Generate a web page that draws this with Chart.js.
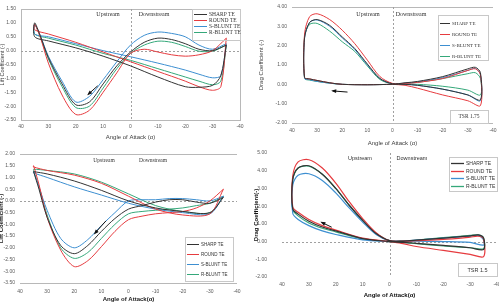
<!DOCTYPE html>
<html>
<head>
<meta charset="utf-8">
<script src="https://cdn.jsdelivr.net/npm/chart.js@4.4.1/dist/chart.umd.min.js"></script>
<style>
  html, body { margin: 0; padding: 0; background: #fff; width: 499px; height: 305px; overflow: hidden; }
  .panel { position: absolute; }
  canvas { display: block; }
</style>
</head>
<body>
<div class="panel" style="left:0;top:0"><canvas id="c1" width="250" height="150"></canvas></div>
<div class="panel" style="left:250px;top:0"><canvas id="c2" width="249" height="150"></canvas></div>
<div class="panel" style="left:0;top:150px"><canvas id="c3" width="250" height="155"></canvas></div>
<div class="panel" style="left:250px;top:150px"><canvas id="c4" width="249" height="155"></canvas></div>
<script>
// series
const seriesNames = ["SHARP TE", "ROUND TE", "S-BLUNT TE", "R-BLUNT TE"];
const seriesColors = ["#333333", "#e63b3f", "#3d8fd1", "#35a87a"];

// top-left: lift, loop goes along the S-curve then back along the straight branch
const lift1Angle = [-35, -30, -25, -20, -15, -10, -5, 0, 5, 10, 15, 20, 25, 30, 33, 35, 35, 30, 20, 10, 0, -10, -20, -25, -30, -33, -35];
const sharp1 = [0.2, 0.0, 0.05, 0.25, 0.4, 0.45, 0.3, -0.05, -0.55, -1.2, -1.85, -1.95, -1.2, -0.25, 0.55, 1.0, 0.5, 0.35, 0.1, -0.2, -0.55, -0.95, -1.3, -1.32, -1.25, -0.9, 0.2];
const round1 = [0.45, 0.0, -0.15, -0.2, -0.15, -0.05, 0.05, -0.1, -0.8, -1.5, -2.15, -2.3, -1.6, -0.45, 0.5, 0.95, 0.75, 0.6, 0.3, -0.05, -0.4, -0.75, -1.1, -1.3, -1.43, -1.3, 0.45];
const sblunt1 = [0.25, 0.05, 0.2, 0.5, 0.62, 0.67, 0.55, 0.2, -0.4, -1.05, -1.65, -1.85, -1.1, -0.2, 0.55, 0.95, 0.6, 0.5, 0.25, 0.0, -0.22, -0.45, -0.7, -0.85, -0.98, -0.9, 0.25];
const rblunt1 = [0.2, -0.02, -0.02, 0.15, 0.3, 0.34, 0.2, -0.1, -0.65, -1.35, -2.0, -2.05, -1.3, -0.3, 0.5, 0.95, 0.6, 0.45, 0.2, -0.1, -0.35, -0.65, -0.95, -1.1, -1.23, -1.1, 0.2];

// top-right: drag, TSR 1.75
const drag2Angle = [0, 10, 20, 25, 30, 33, 35, 35, 33, 30, 25, 20, 15, 10, 5, 0, -5, -10, -20, -30, -33, -35, -35, -30, -20, -10, -5, 0];
const sharp2 = [0, -0.02, 0.0, 0.08, 0.2, 0.28, 0.35, 2.4, 3.2, 3.35, 3.05, 2.45, 1.85, 1.05, 0.3, 0.03, 0.08, 0.15, 0.4, 0.8, 0.88, 0.6, -0.8, -0.55, -0.25, -0.05, 0.0, 0.0];
const round2 = [0, -0.02, 0.0, 0.08, 0.2, 0.28, 0.35, 2.6, 3.5, 3.65, 3.35, 2.8, 2.1, 1.25, 0.4, 0.05, 0.05, 0.1, 0.3, 0.72, 0.8, 0.5, -1.1, -0.85, -0.55, -0.2, -0.05, 0.0];
const sblunt2 = [0, -0.02, 0.0, 0.06, 0.15, 0.24, 0.3, 2.4, 3.2, 3.33, 3.0, 2.4, 1.8, 1.0, 0.3, 0.03, 0.06, 0.12, 0.35, 0.72, 0.82, 0.5, -0.85, -0.55, -0.25, -0.05, 0.0, 0.0];
const rblunt2 = [0, -0.02, 0.0, 0.06, 0.15, 0.22, 0.3, 2.5, 3.1, 3.15, 2.75, 2.2, 1.7, 0.95, 0.25, 0.03, 0.05, 0.1, 0.3, 0.55, 0.6, 0.3, -0.55, -0.3, -0.1, 0.0, 0.0, 0.0];

// bottom-left: lift
const lift3Angle = [-35, -30, -25, -20, -15, -10, -5, 0, 5, 10, 15, 20, 25, 30, 33, 35, 35, 30, 20, 10, 0, -10, -20, -30, -35];
const sharp3 = [0.15, -0.1, -0.05, 0.05, 0.05, -0.05, -0.2, -0.35, -0.75, -1.3, -1.9, -2.25, -1.9, -0.7, 0.5, 1.25, 1.25, 1.15, 0.85, 0.45, 0.0, -0.3, -0.45, -0.5, 0.15];
const round3 = [0.5, 0.0, -0.3, -0.45, -0.5, -0.55, -0.65, -0.8, -1.3, -1.95, -2.55, -2.8, -2.1, -0.7, 0.7, 1.5, 1.45, 1.3, 1.1, 0.75, 0.2, -0.35, -0.6, -0.55, 0.5];
const sblunt3 = [0.2, 0.0, 0.05, 0.1, 0.1, 0.05, 0.05, 0.0, -0.5, -1.05, -1.65, -2.0, -1.6, -0.4, 0.6, 1.25, 1.2, 1.0, 0.6, 0.25, -0.1, -0.35, -0.5, -0.55, 0.2];
const rblunt3 = [0.2, -0.1, -0.2, -0.3, -0.35, -0.4, -0.45, -0.55, -1.0, -1.6, -2.2, -2.45, -2.0, -0.6, 0.6, 1.3, 1.35, 1.3, 1.15, 0.8, 0.3, -0.2, -0.45, -0.5, 0.2];

// bottom-right: drag, TSR 1.5
const drag4Angle = [0, 10, 20, 25, 30, 34, 36, 36, 34, 30, 25, 20, 15, 10, 5, 0, -5, -10, -20, -30, -33, -35, -35, -30, -20, -10, -5, 0];
const sharp4 = [0, 0.17, 0.6, 0.82, 1.15, 1.55, 1.85, 3.5, 4.15, 4.28, 3.8, 3.0, 2.05, 1.2, 0.45, 0.05, 0.03, 0.08, 0.2, 0.32, 0.38, 0.2, -0.45, -0.35, -0.22, -0.1, -0.04, 0];
const round4 = [0, 0.2, 0.65, 0.9, 1.25, 1.65, 1.95, 3.7, 4.5, 4.62, 4.15, 3.3, 2.25, 1.3, 0.5, 0.05, 0.02, 0.05, 0.12, 0.25, 0.3, 0.15, -0.85, -0.72, -0.5, -0.28, -0.12, 0];
const sblunt4 = [0, 0.1, 0.4, 0.6, 0.9, 1.25, 1.6, 3.2, 3.75, 3.83, 3.45, 2.75, 1.9, 1.1, 0.4, 0.05, 0.03, 0.08, 0.2, 0.3, 0.35, 0.1, -0.2, -0.05, 0.0, 0.02, 0.01, 0];
const rblunt4 = [0, 0.15, 0.55, 0.75, 1.05, 1.45, 1.8, 3.5, 4.15, 4.25, 3.8, 3.0, 2.05, 1.2, 0.45, 0.05, 0.03, 0.08, 0.22, 0.35, 0.38, 0.2, -0.4, -0.35, -0.25, -0.12, -0.05, 0];

// direction arrows [fromAngle, fromValue, toAngle, toValue]
const arrow1 = [12, -1.27, 15.4, -1.57];
const arrow2 = [17.9, -0.4, 23.8, -0.34];
const arrow3 = [8.3, -0.85, 12.4, -1.38];
const arrow4 = [21.5, 0.81, 25.2, 1.08];

const sans = "'Liberation Sans', Arial, sans-serif";
const serif = "'Liberation Serif', 'Times New Roman', serif";

// frame, zero lines, notes, legend box, TSR box, arrow
const decor = {
  id: "decor",
  beforeDatasetsDraw(chart, args, o) {
    const { ctx, chartArea: a, scales: { x, y } } = chart;
    ctx.save();
    ctx.lineWidth = 1;
    ctx.strokeStyle = "#b8b8b8";
    if (o.frame === "box") {
      ctx.strokeRect(Math.round(a.left) + 0.5, Math.round(a.top) + 0.5, Math.round(a.width), Math.round(a.height));
    } else if (o.frame === "tb") {
      ctx.beginPath();
      ctx.moveTo(a.left, Math.round(a.top) + 0.5);
      ctx.lineTo(a.right, Math.round(a.top) + 0.5);
      ctx.moveTo(a.left, Math.round(a.bottom) + 0.5);
      ctx.lineTo(a.right, Math.round(a.bottom) + 0.5);
      ctx.stroke();
    }
    ctx.setLineDash([2, 2]);
    ctx.strokeStyle = "#a0a0a0";
    ctx.beginPath();
    if (o.zeroX) {
      const px = Math.round(x.getPixelForValue(0)) + 0.5;
      ctx.moveTo(px, a.top);
      ctx.lineTo(px, a.bottom);
    }
    if (o.zeroY) {
      const py = Math.round(y.getPixelForValue(0)) + 0.5;
      ctx.moveTo(a.left, py);
      ctx.lineTo(a.right, py);
    }
    ctx.stroke();
    ctx.restore();
  },
  afterDraw(chart, args, o) {
    const { ctx, scales: { x, y } } = chart;
    ctx.save();
    ctx.fillStyle = "#333";
    ctx.textAlign = "center";
    ctx.textBaseline = "middle";
    ctx.font = o.noteFont;
    (o.notes || []).forEach((n) => ctx.fillText(n.text, n.x, n.y));

    const lg = o.legend;
    if (lg) {
      ctx.strokeStyle = "#c8c8c8";
      ctx.lineWidth = 1;
      if (lg.border) ctx.strokeRect(lg.x + 0.5, lg.y + 0.5, lg.w, lg.h);
      ctx.font = lg.font;
      ctx.textAlign = "left";
      chart.data.datasets.forEach((ds, i) => {
        const ry = Math.round(lg.y + lg.first + i * lg.row) + 0.5;
        ctx.strokeStyle = ds.borderColor;
        ctx.lineWidth = lg.lw || 1;
        ctx.beginPath();
        ctx.moveTo(lg.x + 2, ry);
        ctx.lineTo(lg.x + 2 + lg.sample, ry);
        ctx.stroke();
        ctx.fillStyle = "#333";
        ctx.fillText(ds.label, lg.x + lg.sample + 4, ry);
      });
    }

    if (o.tsr) {
      const t = o.tsr;
      ctx.strokeStyle = "#c8c8c8";
      ctx.lineWidth = 1;
      ctx.strokeRect(t.x + 0.5, t.y + 0.5, t.w, t.h);
      ctx.fillStyle = "#333";
      ctx.font = t.font;
      ctx.textAlign = "center";
      ctx.fillText(t.text, t.x + t.w / 2, t.y + t.h / 2 + 0.5);
    }

    if (o.arrow) {
      const [fa, fv, ta, tv] = o.arrow;
      const x0 = x.getPixelForValue(fa), y0 = y.getPixelForValue(fv);
      const x1 = x.getPixelForValue(ta), y1 = y.getPixelForValue(tv);
      const ang = Math.atan2(y1 - y0, x1 - x0);
      ctx.strokeStyle = "#111";
      ctx.fillStyle = "#111";
      ctx.lineWidth = 1;
      ctx.beginPath();
      ctx.moveTo(x0, y0);
      ctx.lineTo(x1, y1);
      ctx.stroke();
      ctx.beginPath();
      ctx.moveTo(x1 + Math.cos(ang) * 1.5, y1 + Math.sin(ang) * 1.5);
      ctx.lineTo(x1 - Math.cos(ang - 0.5) * 4, y1 - Math.sin(ang - 0.5) * 4);
      ctx.lineTo(x1 - Math.cos(ang + 0.5) * 4, y1 - Math.sin(ang + 0.5) * 4);
      ctx.closePath();
      ctx.fill();
    }
    ctx.restore();
  },
};

function makeChart(id, angles, valueSets, c) {
  const tickFont = { family: sans, size: 5 };
  return new Chart(document.getElementById(id), {
    type: "scatter",
    data: {
      datasets: valueSets.map((vals, i) => ({
        label: seriesNames[i],
        data: angles.map((a, k) => ({ x: a, y: vals[k] })),
        showLine: true,
        borderColor: seriesColors[i],
        backgroundColor: seriesColors[i],
        borderWidth: c.lw || 1,
        pointRadius: 0,
        tension: 0.3,
      })),
    },
    options: {
      responsive: false,
      animation: false,
      devicePixelRatio: 1,
      layout: { padding: { left: 0, top: c.top, right: c.right, bottom: 0 } },
      plugins: {
        legend: { display: false },
        tooltip: { enabled: false },
        decor: c.decor,
      },
      scales: {
        x: {
          type: "linear",
          reverse: true,
          min: -40,
          max: 40,
          afterFit: (s) => {
            s.height = c.xh;
            s.paddingLeft = 0;
            s.paddingRight = 0;
          },
          grid: { display: false, drawTicks: false },
          border: { display: false },
          ticks: { stepSize: 10, autoSkip: false, maxRotation: 0, padding: c.xpad, font: tickFont, color: "#595959" },
          title: {
            display: true,
            text: c.xTitle,
            color: c.titleColor || "#404040",
            font: { family: sans, size: 6, weight: c.titleWeight || "normal" },
            padding: { top: 0, bottom: c.xtb },
          },
        },
        y: {
          min: c.ymin,
          max: c.ymax,
          afterFit: (s) => {
            s.width = c.yw;
            s.paddingTop = 0;
            s.paddingBottom = 0;
          },
          grid: { display: false, drawTicks: false },
          border: { display: false },
          ticks: {
            stepSize: c.ystep,
            autoSkip: false,
            padding: c.ypad,
            font: tickFont,
            color: "#595959",
            callback: (v) => v.toFixed(2),
          },
          title: {
            display: true,
            text: c.yTitle,
            color: c.titleColor || "#404040",
            font: { family: sans, size: c.ytSize || 6, weight: c.titleWeight || "normal" },
            padding: { top: c.ytp, bottom: 0 },
          },
        },
      },
    },
    plugins: [decor],
  });
}

makeChart("c1", lift1Angle, [sharp1, round1, sblunt1, rblunt1], {
  top: 9, right: 10, xh: 30, yw: 21, xpad: 4, ypad: 5, xtb: 9, ytp: -0.5, ytSize: 5.5,
  ymin: -2.5, ymax: 1.5, ystep: 0.5,
  xTitle: "Angle of Attack (α)", yTitle: "Lift Coefficient (-)",
  decor: {
    frame: "box", zeroX: true, zeroY: true,
    noteFont: "6px " + serif,
    notes: [{ text: "Upstream", x: 108, y: 14 }, { text: "Downstream", x: 154, y: 14 }],
    legend: { x: 192, y: 9, w: 48, h: 31, first: 4.5, row: 6.3, sample: 13, border: true, font: "5.5px " + serif },
    arrow: arrow1,
  },
});

makeChart("c2", drag2Angle, [sharp2, round2, sblunt2, rblunt2], {
  top: 7, right: 6, xh: 27, yw: 42, xpad: 5, ypad: 5, xtb: 3, ytp: 8,
  ymin: -2, ymax: 4, ystep: 1,
  xTitle: "Angle of Attack (α)", yTitle: "Drag Coefficient (-)",
  decor: {
    frame: "tb", zeroX: true, zeroY: false,
    noteFont: "6px " + serif,
    notes: [{ text: "Upstream", x: 118, y: 14 }, { text: "Downstream", x: 161, y: 14 }],
    legend: { x: 188, y: 15, w: 50, h: 45, first: 8, row: 11, sample: 10, border: true, font: "5px " + serif },
    tsr: { x: 200, y: 110, w: 38, h: 13, text: "TSR 1.75", font: "5.5px " + serif },
    arrow: arrow2,
  },
});

makeChart("c3", lift3Angle, [sharp3, round3, sblunt3, rblunt3], {
  top: 4, right: 13, xh: 22, yw: 20, xpad: 6, ypad: 5, xtb: 2, ytp: -2.5,
  ymin: -3.5, ymax: 2, ystep: 0.5, titleColor: "#222", titleWeight: "bold",
  xTitle: "Angle of Attack(α)", yTitle: "Lift Coefficient (-)",
  decor: {
    frame: "tb", zeroX: false, zeroY: true,
    noteFont: "5.5px " + serif,
    notes: [{ text: "Upstream", x: 104, y: 11 }, { text: "Downstream", x: 153, y: 11 }],
    legend: { x: 185, y: 87, w: 48, h: 44, first: 7, row: 10, sample: 12, border: true, font: "4.5px " + sans, lw: 1 },
    arrow: arrow3,
  },
});

makeChart("c4", drag4Angle, [sharp4, round4, sblunt4, rblunt4], {
  top: 3, right: 2, xh: 28, yw: 32, xpad: 5, ypad: 15, xtb: 6, ytp: 3, lw: 1.2,
  ymin: -2, ymax: 5, ystep: 1, titleColor: "#111", titleWeight: "bold",
  xTitle: "Angle of Attack(α)", yTitle: "Drag Coefficient(-)",
  decor: {
    frame: "none", zeroX: true, zeroY: true,
    noteFont: "5.5px " + sans,
    notes: [{ text: "Upstream", x: 110, y: 8 }, { text: "Downstream", x: 162, y: 8 }],
    legend: { x: 199, y: 7, w: 48, h: 34, first: 6, row: 7.7, sample: 13, border: true, font: "5px " + sans, lw: 1.3 },
    tsr: { x: 208, y: 113, w: 39, h: 13, text: "TSR 1.5", font: "5.5px " + sans },
    arrow: arrow4,
  },
});
</script>
</body>
</html>
